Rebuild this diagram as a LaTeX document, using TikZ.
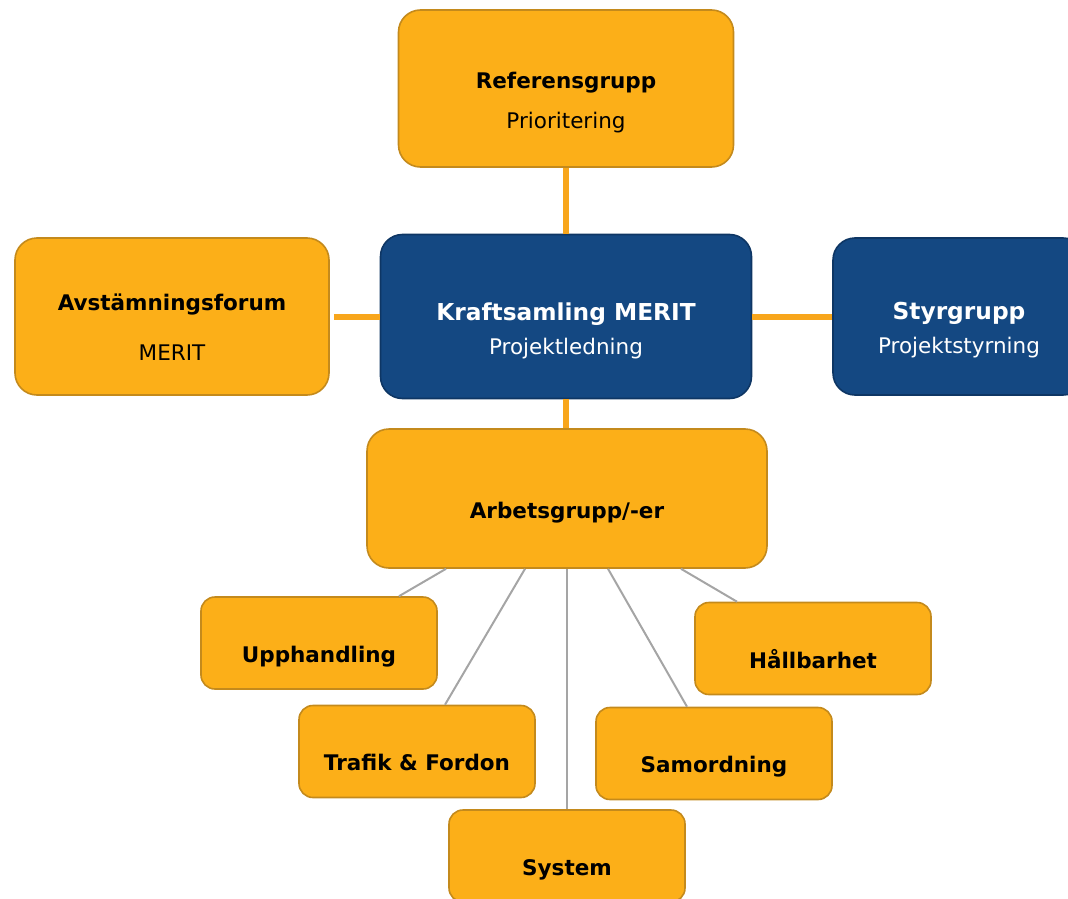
\documentclass[tikz,border=0pt]{standalone}
\usepackage{fontspec}
\setmainfont{DejaVu Sans}
\usepackage{tikz}
\usetikzlibrary{positioning}
\usepackage{xcolor}

\definecolor{boxorange}{RGB}{252,175,24}
\definecolor{edgeorange}{RGB}{196,138,28}
\definecolor{boxblue}{RGB}{20,72,130}
\definecolor{edgeblue}{RGB}{14,54,100}
\definecolor{linkorange}{RGB}{248,166,28}
\definecolor{linkgray}{RGB}{165,165,165}

\newcommand{\bigbold}[1]{{\fontsize{23.3}{28}\selectfont\textbf{#1}}}

\begin{document}
\begin{tikzpicture}[x=1pt,y=-1pt,
  obox/.style={draw=edgeorange,line width=1.6pt,fill=boxorange,rounded corners=22pt},
  bbox/.style={draw=edgeblue,line width=1.6pt,fill=boxblue,rounded corners=22pt},
  sbox/.style={obox,rounded corners=14pt,minimum width=236pt,minimum height=92pt},
  txt/.style={align=center,font=\fontsize{21.5}{26}\selectfont},
  wtxt/.style={txt,text=white},
  olink/.style={draw=linkorange,line width=6pt},
  glink/.style={draw=linkgray,line width=2pt}]
\useasboundingbox (0,0) rectangle (1068,899);

% main boxes
\node [obox,minimum width=335pt,minimum height=157pt] (ref) at (566,88.5) {};
\node [obox,minimum width=314pt,minimum height=157pt] (avst) at (172,316.5) {};
\node [bbox,minimum width=371pt,minimum height=164pt] (kraft) at (566,316.5) {};
\node [bbox,minimum width=252pt,minimum height=157pt] (styr) at (959,316.5) {};
\node [obox,minimum width=400pt,minimum height=139pt] (arb) at (567,498.5) {};

\node [txt,at=(ref.center),yshift=-14pt] (reft) {\textbf{Referensgrupp}\\[14pt]Prioritering};
\node [txt,at=(avst.center),yshift=-11pt] (avstt) {\textbf{Avstämningsforum}\\[24pt]MERIT};
\node [wtxt,at=(kraft.center),yshift=-14pt] (kraftt) {\bigbold{Kraftsamling MERIT}\\[8pt]Projektledning};
\node [wtxt,at=(styr.center),yshift=-14pt] (styrt) {\bigbold{Styrgrupp}\\[8pt]Projektstyrning};
\node [txt,at=(arb.center),yshift=-14pt] (arbt) {\textbf{Arbetsgrupp/-er}};

% arbetsgrupper
\node [sbox] (upp) at (319,643) {};
\node [sbox] (trafik) at (417,751.5) {};
\node [sbox] (sys) at (567,856) {};
\node [sbox] (samord) at (714,753.5) {};
\node [sbox] (hall) at (813,648.5) {};

\node [txt,at=(upp.center),yshift=-14pt] (uppt) {\textbf{Upphandling}};
\node [txt,at=(trafik.center),yshift=-11pt] (trafikt) {\textbf{Trafik \& Fordon}};
\node [txt,at=(sys.center),yshift=-14pt] (syst) {\textbf{System}};
\node [txt,at=(samord.center),yshift=-13pt] (samordt) {\textbf{Samordning}};
\node [txt,at=(hall.center),yshift=-11pt] (hallt) {\textbf{Hållbarhet}};

\draw [olink] (ref) -- (kraft);
\draw [olink] ([xshift=4pt]avst.east) -- (kraft.west);
\draw [olink] (kraft) -- (styr);
\draw [olink] (kraft.south) -- (kraft.south |- arb.north);

\draw [glink] ([xshift=-121pt]arb.south) -- ([xshift=80pt]upp.north);
\draw [glink] ([xshift=-42pt]arb.south) -- ([xshift=28pt]trafik.north);
\draw [glink] (arb.south) -- (sys.north);
\draw [glink] ([xshift=41pt]arb.south) -- ([xshift=-27pt]samord.north);
\draw [glink] ([xshift=114pt]arb.south) -- ([xshift=-76pt]hall.north);
\end{tikzpicture}
\end{document}
